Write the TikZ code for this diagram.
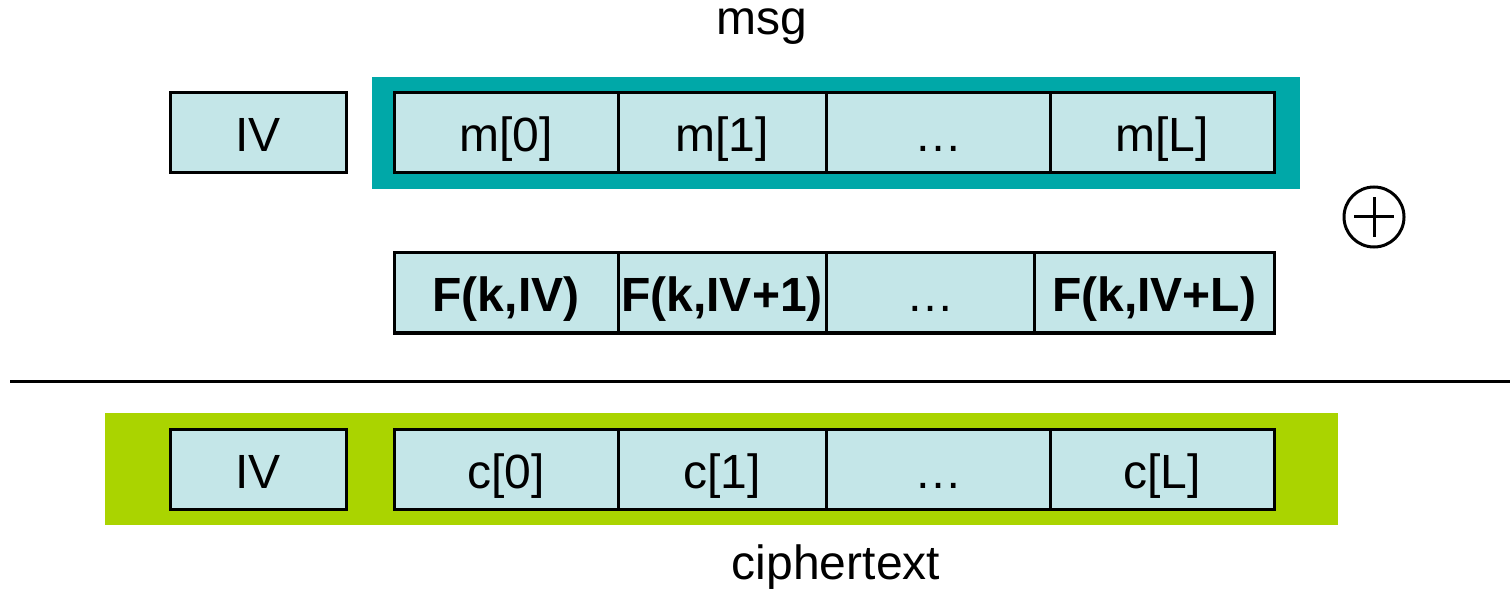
\documentclass[tikz,border=0pt]{standalone}
\usepackage{fontspec}
\setmainfont{Liberation Sans}
\definecolor{cellfill}{RGB}{196,230,232}
\definecolor{tealbg}{RGB}{0,168,168}
\definecolor{greenbg}{RGB}{170,212,0}
\tikzset{
  cell/.style={draw=black, line width=1.5pt, fill=cellfill, minimum height=40pt,
    inner sep=0pt, outer sep=0pt, text height=19.5pt, text depth=0.5pt,
    font=\fontsize{24}{28}\selectfont},
  boldcell/.style={cell, font=\fontsize{24}{28}\selectfont\bfseries},
  lbl/.style={font=\fontsize{24}{28}\selectfont, inner sep=0pt}
}
\begin{document}
\begin{tikzpicture}[x=0.5pt,y=-0.5pt]
\useasboundingbox (0,0) rectangle (1510,593);
% backgrounds
\fill[tealbg] (372,77) rectangle (1300,189);
\fill[greenbg] (105,413) rectangle (1338,525);
% labels
\node[lbl] (msg) at (762,27) {msg};
\node[lbl] (ct) at (836,567) {ciphertext};
% top row
\node[cell, minimum width=88pt] (iv) at (258,133) {IV};
\node[cell, minimum width=112pt] (m0) at (506,133) {m[0]};
\node[cell, minimum width=104pt] (m1) at (722,133) {m[1]};
\node[cell, minimum width=112pt] (mdots) at (938,133) {…};
\node[cell, minimum width=112pt] (mL) at (1162,133) {m[L]};
% F row
\node[boldcell, minimum width=112pt] (f0) at (506,293) {F(k,IV)};
\node[boldcell, minimum width=104pt] (f1) at (722,293) {F(k,IV+1)};
\node[cell, minimum width=104pt] (fdots) at (930,293) {…};
\node[boldcell, minimum width=120pt] (fL) at (1154,293) {F(k,IV+L)};
% xor symbol
\node[circle, draw=black, line width=1.5pt, minimum size=30pt, inner sep=0pt] (xor) at (1374,217) {};
\draw[line width=1.5pt] ([xshift=-10pt]xor.center) -- ([xshift=10pt]xor.center);
\draw[line width=1.5pt] ([yshift=-10pt]xor.center) -- ([yshift=10pt]xor.center);
% separator
\coordinate (sepL) at (10,381);
\coordinate (sepR) at (1510,381);
\draw[line width=1.5pt] (sepL) -- (sepR);
% bottom row
\node[cell, minimum width=88pt] (civ) at (258,469.5) {IV};
\node[cell, minimum width=112pt] (c0) at (506,469.5) {c[0]};
\node[cell, minimum width=104pt] (c1) at (722,469.5) {c[1]};
\node[cell, minimum width=112pt] (cdots) at (938,469.5) {…};
\node[cell, minimum width=112pt] (cL) at (1162,469.5) {c[L]};
\end{tikzpicture}
\end{document}
